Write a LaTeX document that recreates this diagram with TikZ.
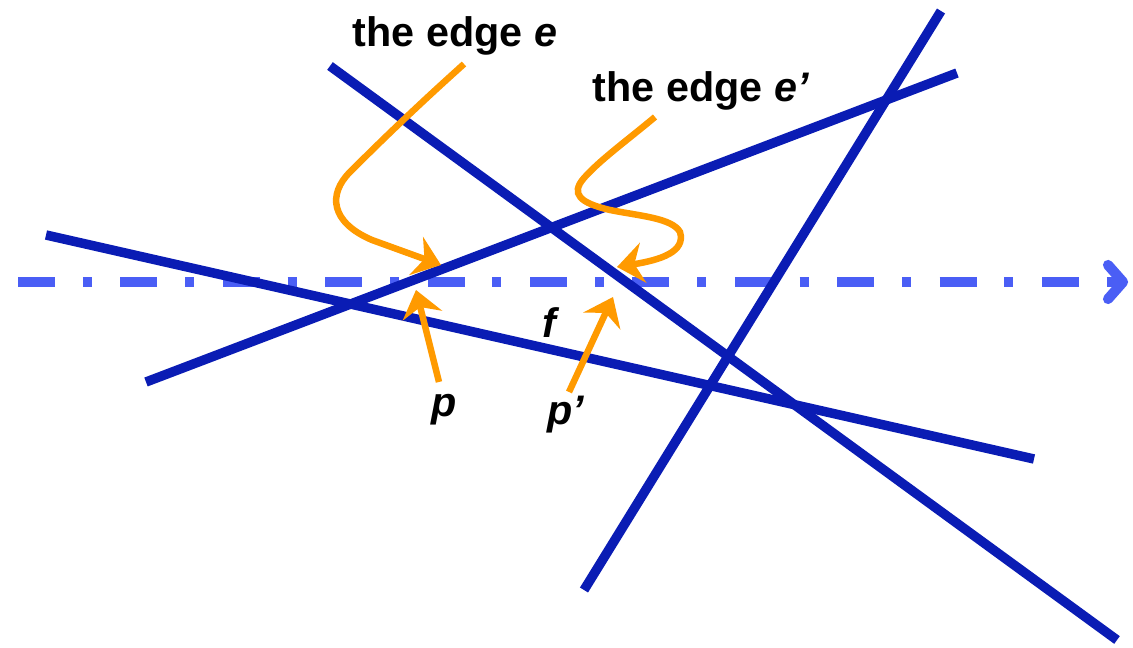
\documentclass[tikz,border=0pt]{standalone}
\usepackage{fontspec}
\setmainfont{Liberation Sans}
\usetikzlibrary{arrows.meta}
\definecolor{edgeblue}{RGB}{10,28,180}
\definecolor{sweepblue}{RGB}{74,94,245}
\definecolor{pointer}{RGB}{255,154,0}
\begin{document}
\begin{tikzpicture}[x=0.02cm,y=-0.02cm,
  segline/.style={edgeblue,line width=5.4pt},
  sweep/.style={sweepblue,line width=5.4pt,dash pattern=on 20.98pt off 15.88pt on 5.1pt off 16.33pt},
  chevron/.style={sweepblue,line width=5.8pt,line cap=round,line join=round},
  pointerline/.style={pointer,line width=3.7pt,-{Stealth[length=15pt,width=23pt,inset=5pt]}},
  lbl/.style={font=\fontsize{23.5}{28}\selectfont\bfseries,inner sep=0pt,anchor=base}]
\useasboundingbox (0,0) rectangle (1133,648);

% sweep line
\coordinate (s0) at (18,282);
\coordinate (s1) at (1120,282);
\draw[sweep] (s0) -- (s1);
\coordinate (ca) at (1108,265);
\coordinate (ct) at (1123,282);
\coordinate (cb) at (1108,299);
\draw[chevron] (ca) -- (ct) -- (cb);

% segments
\coordinate (a1) at (330,66);   \coordinate (a2) at (1117,640);
\coordinate (b1) at (941,11);   \coordinate (b2) at (584,590);
\coordinate (c1) at (146,382);  \coordinate (c2) at (957,73);
\coordinate (d1) at (46,235);   \coordinate (d2) at (1034,459);
\draw[segline] (a1) -- (a2);
\draw[segline] (b1) -- (b2);
\draw[segline] (c1) -- (c2);
\draw[segline] (d1) -- (d2);

% labels
\node[lbl] (le) at (455,47) {the edge \textit{e}};
\node[lbl] (lep) at (701,102) {the edge \textit{e’}};
\node[lbl] (lp) at (444,417) {\textit{p}};
\node[lbl] (lpp) at (566,425) {\textit{p’}};
\node[lbl] (lf) at (551,338) {\textit{f}};

% pointers
\coordinate (e0) at (464,64);
\coordinate (et) at (441,265);
\draw[pointerline] (e0) .. controls (415,108) and (380,142) .. (350,172)
  .. controls (328,194) and (330,222) .. (372,240) -- (et);

\coordinate (f0) at (655,117);
\coordinate (ft) at (617,267);
\draw[pointerline] (f0) .. controls (625,142) and (600,160) .. (584,178)
  .. controls (570,194) and (580,203) .. (610,210)
  .. controls (640,216) and (672,218) .. (680,232)
  .. controls (686,252) and (660,260) .. (ft);

\coordinate (p0) at (439,382);
\coordinate (pt) at (416,290);
\draw[pointerline] (p0) -- (pt);

\coordinate (q0) at (569,392);
\coordinate (qt) at (613,297);
\draw[pointerline] (q0) -- (qt);
\end{tikzpicture}
\end{document}
